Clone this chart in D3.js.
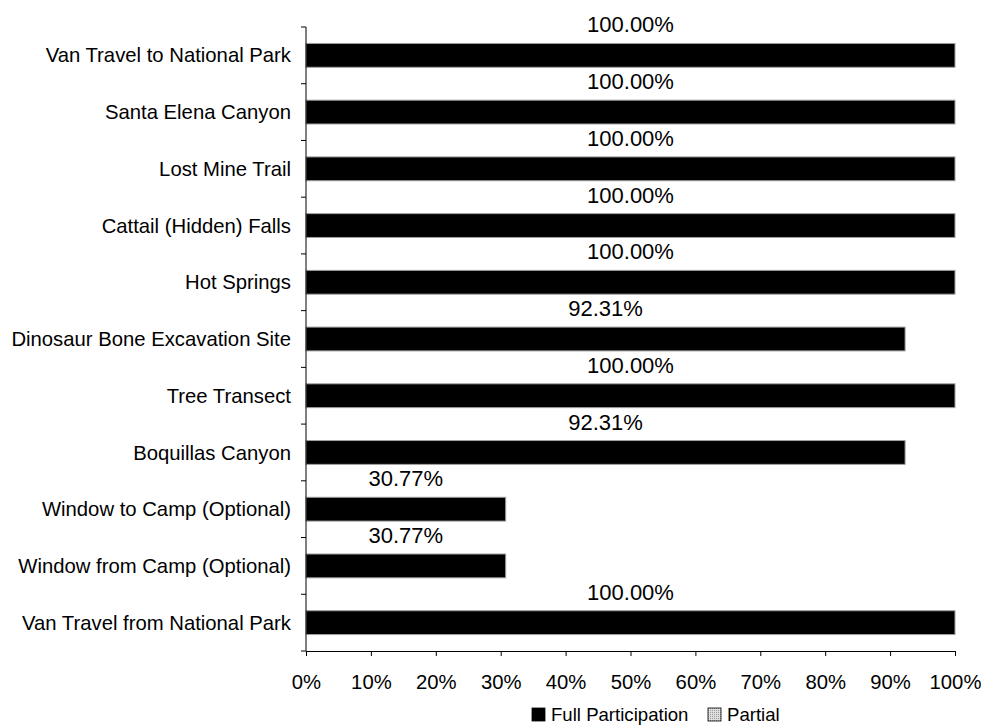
<!DOCTYPE html>
<html>
<head>
<meta charset="utf-8">
<script src="https://cdn.jsdelivr.net/npm/d3@7"></script>
<style>
  html, body { margin: 0; padding: 0; background: #fff; }
  svg { display: block; }
  text { font-family: "Liberation Sans", Arial, sans-serif; fill: #000; }
</style>
</head>
<body>
<svg id="chart" width="981" height="726"></svg>
<script>
const categories = [
  "Van Travel to National Park",
  "Santa Elena Canyon",
  "Lost Mine Trail",
  "Cattail (Hidden) Falls",
  "Hot Springs",
  "Dinosaur Bone Excavation Site",
  "Tree Transect",
  "Boquillas Canyon",
  "Window to Camp (Optional)",
  "Window from Camp (Optional)",
  "Van Travel from National Park"
];
const fullParticipation = [1.0, 1.0, 1.0, 1.0, 1.0, 0.9231, 1.0, 0.9231, 0.3077, 0.3077, 1.0];
const partial = [0, 0, 0, 0, 0, 0, 0, 0, 0, 0, 0];
const xTicks = [0, 0.1, 0.2, 0.3, 0.4, 0.5, 0.6, 0.7, 0.8, 0.9, 1.0];
const seriesNames = ["Full Participation", "Partial"];

const svg = d3.select("#chart");
const mLeft = 306, mRight = 955, mTop = 27, mBottom = 651;
const fsCat = 20.3, fsVal = 22, fsTick = 20.3, fsLeg = 18.6;

const x = d3.scaleLinear().domain([0, 1]).range([mLeft, mRight]);
const y = d3.scaleBand().domain(categories).range([mTop, mBottom]).paddingInner(0.58).paddingOuter(0.29);

// pattern for partial
const defs = svg.append("defs");
const pat = defs.append("pattern").attr("id", "dots").attr("width", 2).attr("height", 2).attr("patternUnits", "userSpaceOnUse");
pat.append("rect").attr("width", 2).attr("height", 2).attr("fill", "#e0e0e0");
pat.append("rect").attr("width", 1).attr("height", 1).attr("fill", "#999");

// bars - full
svg.append("g").selectAll("rect").data(categories).join("rect")
  .attr("x", x(0))
  .attr("y", d => y(d))
  .attr("width", (d, i) => x(fullParticipation[i]) - x(0))
  .attr("height", y.bandwidth())
  .attr("fill", "#000")
  .attr("stroke", "#a0a0a0")
  .attr("stroke-width", 1);

// bars - partial (stacked)
svg.append("g").selectAll("rect").data(categories).join("rect")
  .attr("x", (d, i) => x(fullParticipation[i]))
  .attr("y", d => y(d))
  .attr("width", (d, i) => x(fullParticipation[i] + partial[i]) - x(fullParticipation[i]))
  .attr("height", y.bandwidth())
  .attr("fill", "url(#dots)");

// value labels
svg.append("g").selectAll("text").data(categories).join("text")
  .attr("x", (d, i) => (x(0) + x(fullParticipation[i])) / 2)
  .attr("y", d => y(d) - 11)
  .attr("text-anchor", "middle")
  .attr("font-size", fsVal)
  .text((d, i) => (fullParticipation[i] * 100).toFixed(2) + "%");

// y axis
const yAxisG = svg.append("g").attr("transform", `translate(${mLeft},0)`);
yAxisG.append("line").attr("x1", 0).attr("x2", 0).attr("y1", mTop).attr("y2", mBottom).attr("stroke", "#000");
const bounds = d3.range(categories.length + 1).map(i => mTop + i * (mBottom - mTop) / categories.length);
yAxisG.selectAll("line.t").data(bounds).join("line").attr("class", "t")
  .attr("x1", -5).attr("x2", 0).attr("y1", d => d).attr("y2", d => d).attr("stroke", "#000");
yAxisG.selectAll("text").data(categories).join("text")
  .attr("x", -15)
  .attr("y", d => y(d) + y.bandwidth() / 2)
  .attr("dy", "0.35em")
  .attr("text-anchor", "end")
  .attr("font-size", fsCat)
  .text(d => d);

// x axis
const xAxis = d3.axisBottom(x).tickValues(xTicks).tickFormat(d3.format(".0%")).tickSize(5).tickPadding(19);
const xg = svg.append("g").attr("transform", `translate(0,${mBottom})`).call(xAxis);
xg.select(".domain").attr("stroke", "#000");
xg.selectAll(".tick line").attr("stroke", "#000");
xg.selectAll(".tick text").attr("font-size", fsTick).attr("font-family", '"Liberation Sans", Arial, sans-serif').attr("fill", "#000");

// legend
const lg = svg.append("g");
const legendItems = [
  {name: seriesNames[0], fill: "#000", x: 532},
  {name: seriesNames[1], fill: "url(#dots)", x: 708}
];
legendItems.forEach(it => {
  lg.append("rect").attr("x", it.x).attr("y", 708).attr("width", 13).attr("height", 13)
    .attr("fill", it.fill).attr("stroke", "#000").attr("stroke-width", 0.8);
  lg.append("text").attr("x", it.x + 19).attr("y", 721).attr("font-size", fsLeg).text(it.name);
});
</script>
</body>
</html>
